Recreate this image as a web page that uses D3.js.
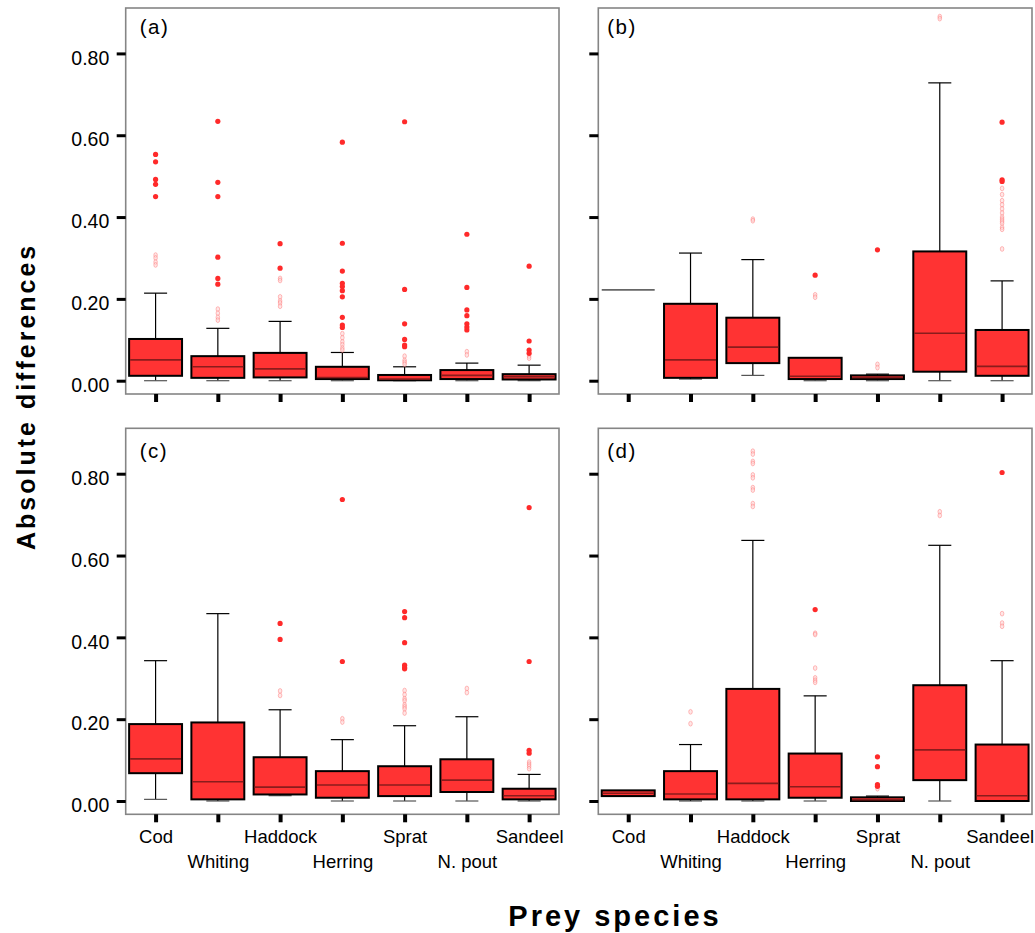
<!DOCTYPE html>
<html>
<head>
<meta charset="utf-8">
<script src="https://cdn.jsdelivr.net/npm/d3@7"></script>
<style>
  body { margin: 0; background: #fff; }
  svg { display: block; font-family: "Liberation Sans", Arial, sans-serif; }
</style>
</head>
<body>
<svg id="chart" width="1035" height="933"></svg>
<script>
// ---------------- DATA ----------------
const categories = ["Cod", "Whiting", "Haddock", "Herring", "Sprat", "N. pout", "Sandeel"];
const yTickValues = [0, 0.2, 0.4, 0.6, 0.8];
const yTickLabels = ["0.00", "0.20", "0.40", "0.60", "0.80"];
const panelLabels = ["(a)", "(b)", "(c)", "(d)"];

// [lower whisker, Q1, median, Q3, upper whisker] per category
const boxesA = [
  [0.000, 0.012, 0.051, 0.102, 0.214],
  [0.000, 0.007, 0.034, 0.060, 0.128],
  [0.000, 0.008, 0.029, 0.068, 0.145],
  [0.000, 0.004, 0.008, 0.034, 0.069],
  [0.000, 0.001, 0.004, 0.014, 0.034],
  [0.000, 0.004, 0.013, 0.026, 0.043],
  [0.000, 0.003, 0.010, 0.016, 0.038]
];
const extremesA = [
  [0.553, 0.535, 0.492, 0.480, 0.450],
  [0.634, 0.485, 0.450, 0.302, 0.250, 0.236],
  [0.335, 0.275],
  [0.583, 0.336, 0.268, 0.238, 0.230, 0.220, 0.205, 0.155, 0.136, 0.130],
  [0.633, 0.223, 0.139, 0.101, 0.087, 0.083],
  [0.358, 0.228, 0.173, 0.159, 0.139, 0.131, 0.124],
  [0.280, 0.097, 0.075, 0.067]
];
const faintA = [
  [0.307, 0.300, 0.290, 0.283],
  [0.175, 0.165, 0.155, 0.148],
  [0.250, 0.245, 0.205, 0.195, 0.190, 0.182],
  [0.115, 0.105, 0.095, 0.088, 0.080, 0.075],
  [0.060, 0.050, 0.045, 0.040],
  [0.071, 0.063],
  [0.060, 0.055]
];

const boxesB = [
  [0.222, 0.222, 0.222, 0.222, 0.222],
  [0.004, 0.007, 0.051, 0.188, 0.312],
  [0.013, 0.043, 0.082, 0.154, 0.296],
  [0.000, 0.004, 0.011, 0.056, 0.056],
  [0.000, 0.004, 0.008, 0.013, 0.016],
  [0.000, 0.022, 0.116, 0.316, 0.728],
  [0.000, 0.012, 0.035, 0.124, 0.244]
];
const extremesB = [
  [],
  [],
  [],
  [0.258],
  [0.320],
  [],
  [0.632, 0.491, 0.487]
];
const faintB = [
  [],
  [],
  [0.395, 0.391],
  [0.210, 0.204],
  [0.040, 0.032],
  [0.890, 0.885],
  [0.470, 0.455, 0.440, 0.430, 0.420, 0.410, 0.400, 0.395, 0.390, 0.385, 0.375, 0.370, 0.322]
];

const boxesC = [
  [0.004, 0.068, 0.103, 0.188, 0.343],
  [0.000, 0.004, 0.047, 0.192, 0.458],
  [0.013, 0.016, 0.034, 0.107, 0.223],
  [0.000, 0.008, 0.039, 0.073, 0.150],
  [0.000, 0.012, 0.039, 0.085, 0.184],
  [0.000, 0.022, 0.051, 0.102, 0.206],
  [0.000, 0.004, 0.013, 0.030, 0.065]
];
const extremesC = [
  [],
  [],
  [0.434, 0.395],
  [0.737, 0.341],
  [0.463, 0.448, 0.387, 0.332, 0.326, 0.323],
  [],
  [0.717, 0.341, 0.124, 0.117]
];
const faintC = [
  [],
  [],
  [0.269, 0.258],
  [0.201, 0.193],
  [0.270, 0.260, 0.250, 0.245, 0.235, 0.230, 0.225, 0.215],
  [0.275, 0.265],
  [0.095, 0.090, 0.085, 0.079]
];

const boxesD = [
  [0.012, 0.012, 0.019, 0.026, 0.026],
  [0.000, 0.004, 0.017, 0.073, 0.138],
  [0.000, 0.004, 0.043, 0.274, 0.637],
  [0.000, 0.008, 0.035, 0.116, 0.257],
  [0.000, 0.000, 0.003, 0.009, 0.012],
  [0.000, 0.051, 0.125, 0.283, 0.625],
  [0.000, 0.000, 0.013, 0.138, 0.343]
];
const extremesD = [
  [],
  [],
  [],
  [0.468],
  [0.108, 0.084, 0.040, 0.036],
  [],
  [0.803]
];
const faintD = [
  [],
  [0.218, 0.189],
  [0.855, 0.848, 0.830, 0.825, 0.797, 0.790, 0.766, 0.760, 0.727, 0.720],
  [0.410, 0.407, 0.325, 0.301, 0.295, 0.290],
  [0.030],
  [0.707, 0.698],
  [0.458, 0.435, 0.427]
];

// ---------------- LAYOUT ----------------
const svg = d3.select("#chart");
const colX = [[125.7, 559], [598.3, 1032]];
const rowY = [[8, 394], [428.3, 814.3]];
const yDomain = [-0.0325, 0.911];

const panels = [
  { boxes: boxesA, ext: extremesA, faint: faintA, col: 0, row: 0 },
  { boxes: boxesB, ext: extremesB, faint: faintB, col: 1, row: 0 },
  { boxes: boxesC, ext: extremesC, faint: faintC, col: 0, row: 1 },
  { boxes: boxesD, ext: extremesD, faint: faintD, col: 1, row: 1 }
];

const FILL = "#ff3333";
const MEDIAN = "#8a1c1c";

panels.forEach((p, pi) => {
  const [x0, x1] = colX[p.col];
  const [y0, y1] = rowY[p.row];
  const x = d3.scalePoint().domain(categories).range([x0, x1]).padding(0.48);
  const y = d3.scaleLinear().domain(yDomain).range([y1, y0]);
  const step = x.step();
  const bw = step * 0.85;
  const cw = step * 0.37;

  const g = svg.append("g");

  // frame
  g.append("rect")
    .attr("x", x0).attr("y", y0)
    .attr("width", x1 - x0).attr("height", y1 - y0)
    .attr("fill", "none").attr("stroke", "#858585").attr("stroke-width", 1.6);

  // y axis
  const yAxis = d3.axisLeft(y)
    .tickValues(yTickValues)
    .tickSize(9)
    .tickPadding(7.4)
    .tickFormat((d, i) => p.col === 0 ? yTickLabels[i] : "");
  const ya = g.append("g").attr("transform", `translate(${x0},0)`).call(yAxis);
  ya.select(".domain").remove();
  ya.selectAll(".tick line").attr("stroke", "#000").attr("stroke-width", 3);
  ya.selectAll(".tick text")
    .attr("fill", "#000")
    .attr("font-size", 19.5)
    .attr("font-family", "Liberation Sans, Arial, sans-serif")
    .attr("dy", "0.55em");

  // x axis
  const xAxis = d3.axisBottom(x).tickSize(8).tickPadding(0)
    .tickFormat(d => p.row === 1 ? d : "");
  const xa = g.append("g").attr("transform", `translate(0,${y1})`).call(xAxis);
  xa.select(".domain").remove();
  xa.selectAll(".tick line").attr("stroke", "#000").attr("stroke-width", 4);
  xa.selectAll(".tick text")
    .attr("fill", "#000")
    .attr("font-size", 18.5)
    .attr("font-family", "Liberation Sans, Arial, sans-serif")
    .attr("dy", null)
    .attr("y", (d, i) => i % 2 === 0 ? 28.7 : 53.7)
    .attr("x", (d, i) => (p.col === 1 && i === categories.length - 1) ? -2.5 : 0);

  // boxes
  categories.forEach((c, i) => {
    const [lo, q1, med, q3, hi] = p.boxes[i];
    const cx = x(c);
    const bg = g.append("g");

    if (q1 === q3) {
      bg.append("line")
        .attr("x1", cx - bw / 2).attr("x2", cx + bw / 2)
        .attr("y1", y(med)).attr("y2", y(med))
        .attr("stroke", "#666").attr("stroke-width", 1.6);
    } else {
      // whiskers
      if (hi > q3) {
        bg.append("line").attr("x1", cx).attr("x2", cx)
          .attr("y1", y(q3)).attr("y2", y(hi))
          .attr("stroke", "#000").attr("stroke-width", 1.2);
        bg.append("line").attr("x1", cx - cw / 2).attr("x2", cx + cw / 2)
          .attr("y1", y(hi)).attr("y2", y(hi))
          .attr("stroke", "#000").attr("stroke-width", 1.2);
      }
      if (lo < q1) {
        bg.append("line").attr("x1", cx).attr("x2", cx)
          .attr("y1", y(q1)).attr("y2", y(lo))
          .attr("stroke", "#000").attr("stroke-width", 1.2);
        bg.append("line").attr("x1", cx - cw / 2).attr("x2", cx + cw / 2)
          .attr("y1", y(lo)).attr("y2", y(lo))
          .attr("stroke", "#555").attr("stroke-width", 1.2);
      }
      bg.append("rect")
        .attr("x", cx - bw / 2).attr("y", y(q3))
        .attr("width", bw).attr("height", Math.max(0.5, y(q1) - y(q3)))
        .attr("fill", FILL).attr("stroke", "#000").attr("stroke-width", 2);
      bg.append("line")
        .attr("x1", cx - bw / 2 + 1).attr("x2", cx + bw / 2 - 1)
        .attr("y1", y(med)).attr("y2", y(med))
        .attr("stroke", MEDIAN).attr("stroke-width", 1.6);
    }

    // faint outliers
    p.faint[i].forEach(v => {
      bg.append("ellipse")
        .attr("cx", cx).attr("cy", y(v))
        .attr("rx", 1.8).attr("ry", 2.4)
        .attr("fill", "#ffd6d6").attr("fill-opacity", 0.6)
        .attr("stroke", "#ff7070").attr("stroke-opacity", 0.5).attr("stroke-width", 0.9);
    });
    // filled outliers
    p.ext[i].forEach(v => {
      bg.append("circle")
        .attr("cx", cx).attr("cy", y(v)).attr("r", 2.6)
        .attr("fill", "#ff2a2a");
    });
  });

  // panel label
  g.append("text")
    .attr("x", x0 + (p.col === 0 ? 14 : 9))
    .attr("y", y0 + (p.row === 0 ? 26 : 30))
    .attr("font-size", 20.5)
    .attr("letter-spacing", 1.5)
    .attr("fill", "#000")
    .text(panelLabels[pi]);
});

// axis titles
svg.append("text")
  .attr("transform", "translate(35,550) rotate(-90)")
  .attr("text-anchor", "start")
  .attr("font-size", 25)
  .attr("font-weight", "bold")
  .attr("letter-spacing", 3)
  .attr("fill", "#000")
  .text("Absolute differences");

svg.append("text")
  .attr("x", 508.3).attr("y", 926)
  .attr("text-anchor", "start")
  .attr("font-size", 29)
  .attr("font-weight", "bold")
  .attr("letter-spacing", 3)
  .attr("fill", "#000")
  .text("Prey species");
</script>
</body>
</html>
